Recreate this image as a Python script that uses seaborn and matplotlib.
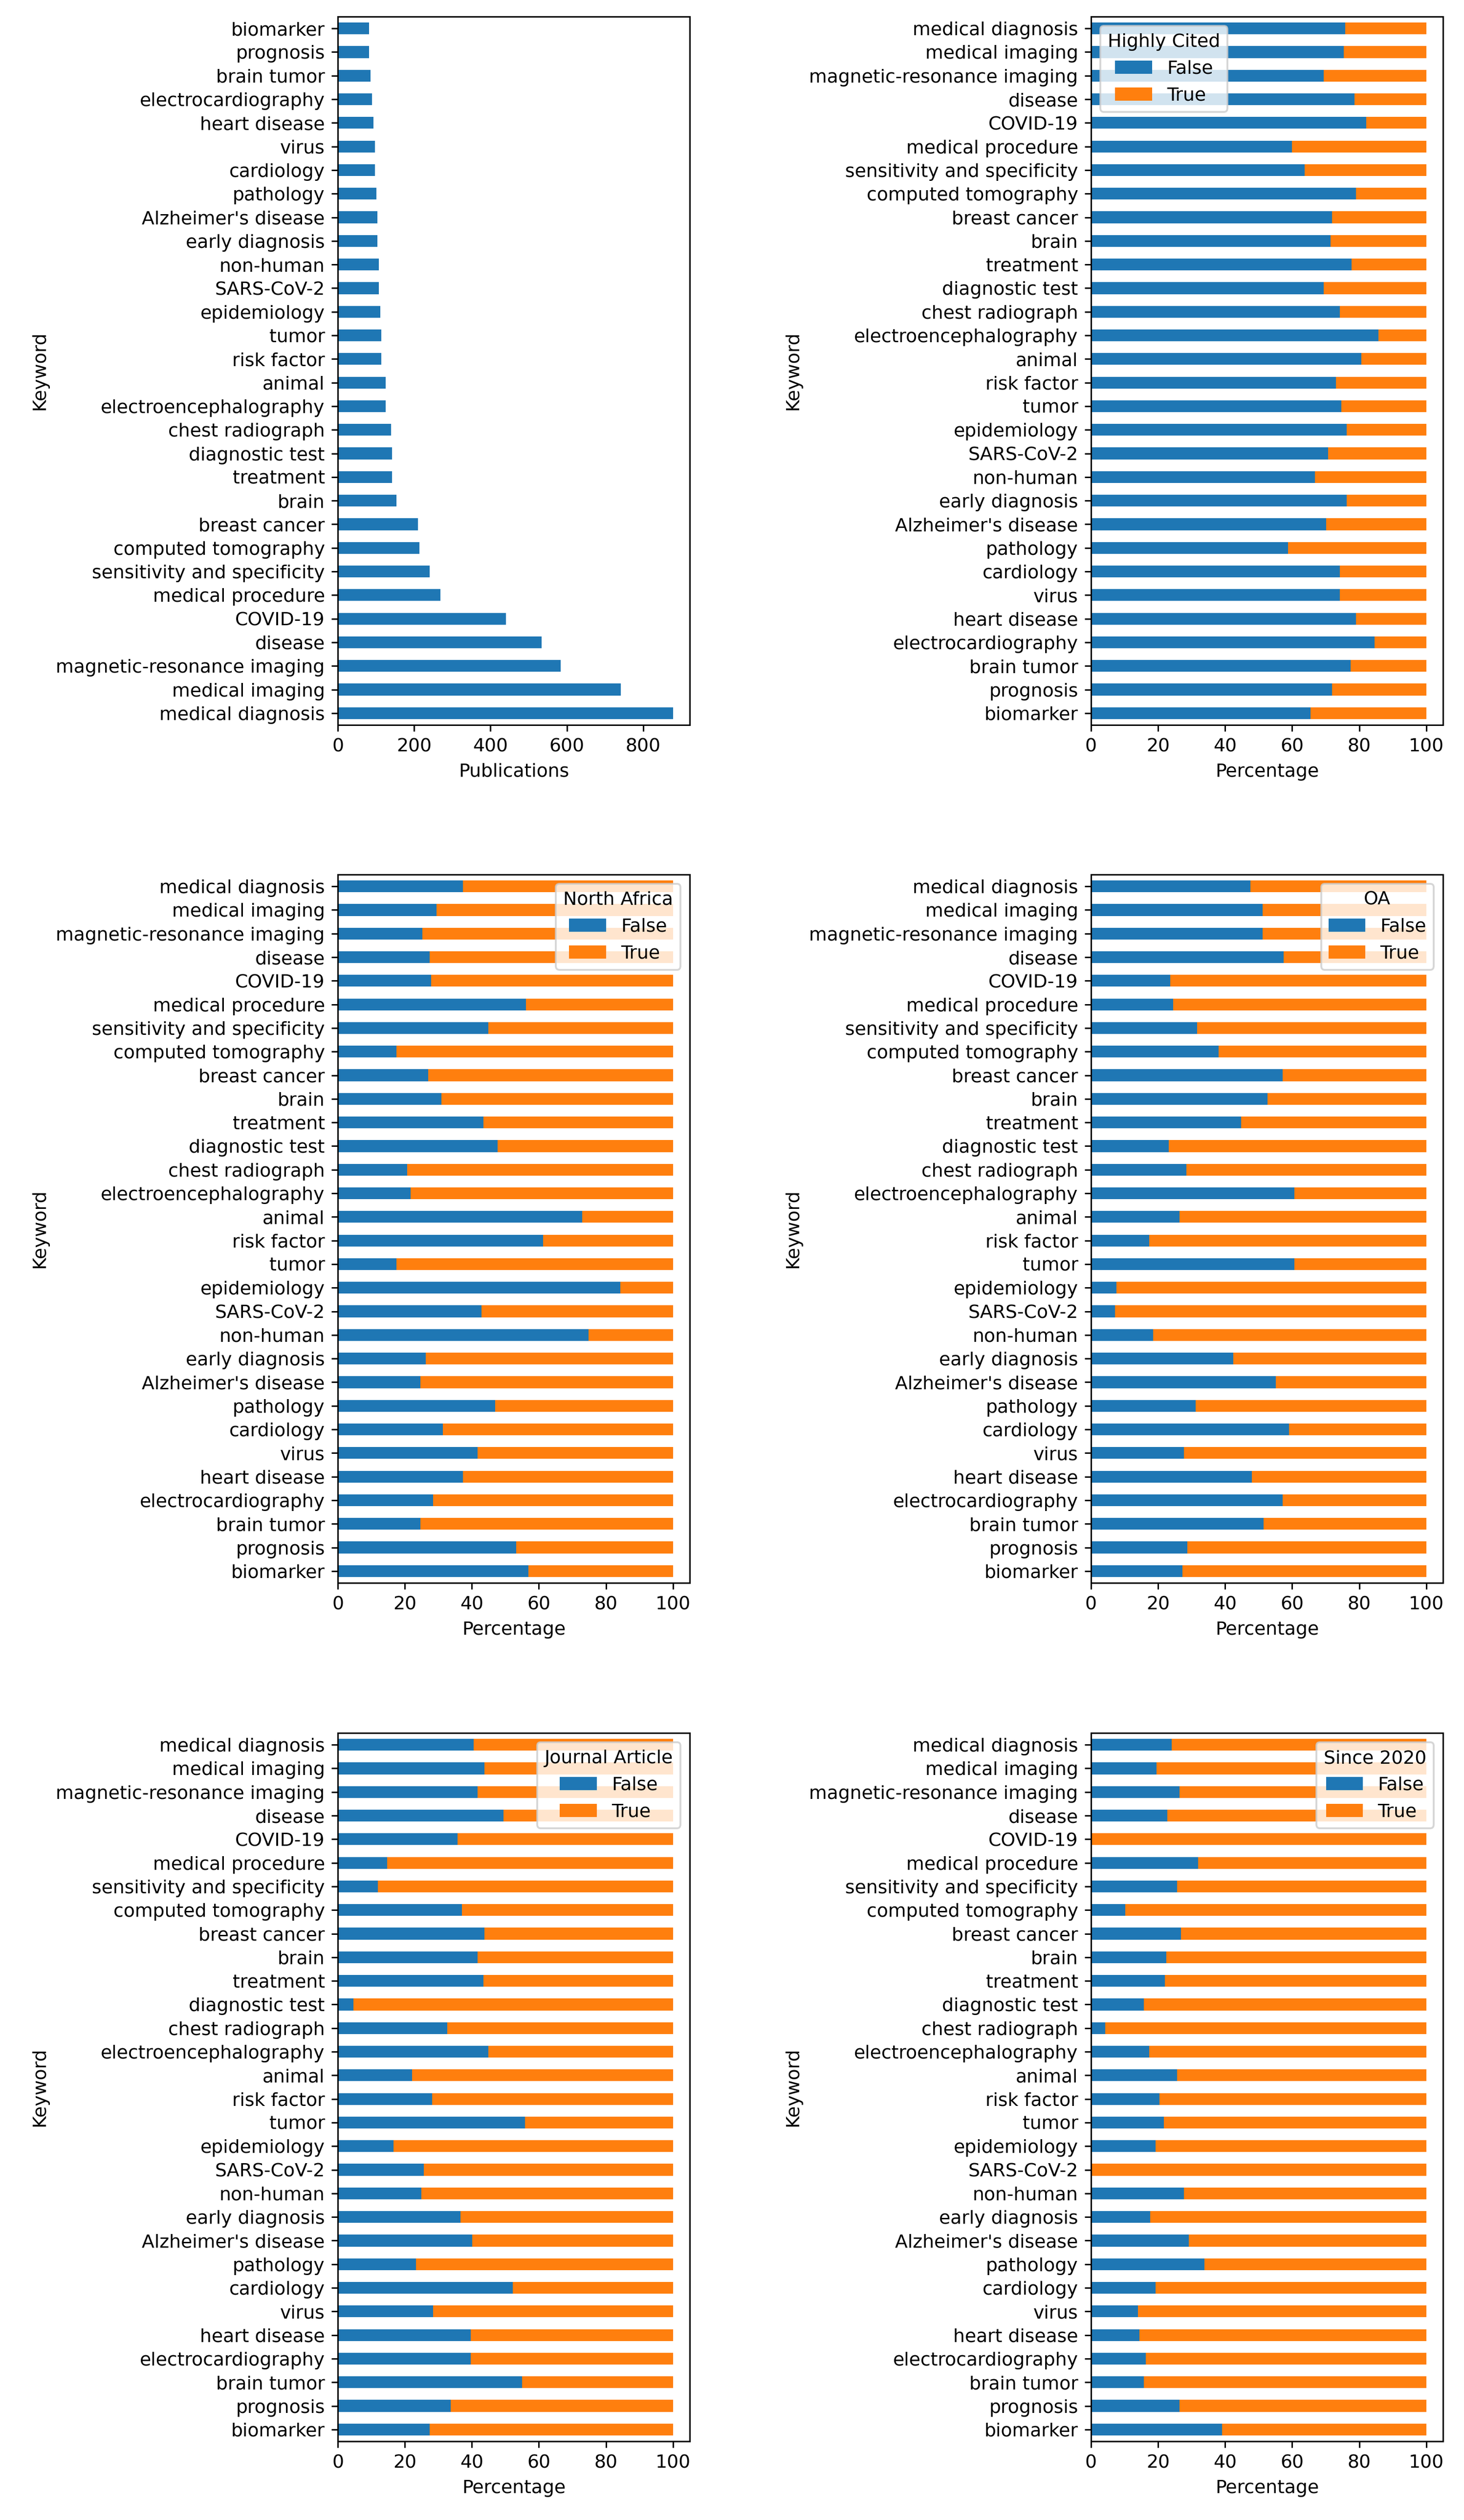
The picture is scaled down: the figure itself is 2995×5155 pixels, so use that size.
import matplotlib
matplotlib.use("Agg")
import matplotlib.pyplot as plt
import seaborn as sns
import pandas as pd

# keywords, ordered by publication count (largest first)
keywords = [
    "medical diagnosis", "medical imaging", "magnetic-resonance imaging", "disease",
    "COVID-19", "medical procedure", "sensitivity and specificity", "computed tomography",
    "breast cancer", "brain", "treatment", "diagnostic test", "chest radiograph",
    "electroencephalography", "animal", "risk factor", "tumor", "epidemiology",
    "SARS-CoV-2", "non-human", "early diagnosis", "Alzheimer's disease", "pathology",
    "cardiology", "virus", "heart disease", "electrocardiography", "brain tumor",
    "prognosis", "biomarker",
]

publications = [878, 741, 584, 534, 441, 269, 241, 214, 210, 154, 142, 142, 139, 125, 125,
                114, 114, 111, 107, 107, 104, 104, 101, 97, 97, 93, 90, 86, 82, 82]

# share of publications where the flag is False (True is the rest up to 100)
highly_cited_false = [75.8, 75.4, 69.4, 78.6, 82.1, 59.9, 63.8, 79.0, 71.9, 71.5, 77.7, 69.4,
                      74.3, 85.7, 80.7, 73.0, 74.7, 76.2, 70.7, 66.8, 76.2, 70.2, 58.7, 74.3,
                      74.3, 79.0, 84.6, 77.5, 71.9, 65.5]
north_africa_false = [37.3, 29.4, 25.3, 27.4, 27.8, 56.1, 44.9, 17.5, 27.0, 30.9, 43.4, 47.7,
                      20.7, 21.8, 72.9, 61.3, 17.5, 84.3, 42.9, 74.8, 26.2, 24.6, 47.0, 31.3,
                      41.7, 37.3, 28.5, 24.6, 53.3, 56.9]
oa_false = [47.6, 51.2, 51.2, 57.4, 23.6, 24.5, 31.6, 38.0, 57.2, 52.7, 44.8, 23.2, 28.4,
            60.6, 26.4, 17.4, 60.6, 7.6, 7.2, 18.5, 42.4, 55.1, 31.2, 59.1, 27.7, 48.0,
            57.2, 51.5, 28.8, 27.3]
journal_article_false = [40.6, 43.8, 41.7, 49.4, 35.7, 14.7, 11.9, 37.1, 43.8, 41.7, 43.4, 4.6,
                         32.6, 44.9, 22.2, 28.1, 55.8, 16.6, 25.7, 25.0, 36.6, 40.1, 23.4, 52.2,
                         28.5, 39.7, 39.7, 55.0, 33.7, 27.4]
since_2020_false = [24.1, 19.6, 26.4, 22.8, 0.0, 32.0, 25.6, 10.2, 26.8, 22.4, 22.0, 15.7, 4.2,
                    17.4, 25.6, 20.4, 21.7, 19.2, 0.0, 27.7, 17.7, 29.2, 33.9, 19.2, 14.0, 14.5,
                    16.4, 15.7, 26.4, 39.1]

pub_ticks = [0, 200, 400, 600, 800]
pct_ticks = [0, 20, 40, 60, 80, 100]

BLUE = "#1f77b4"
ORANGE = "#ff7f0e"

W, H = 2995, 5155
DPI = 272
fig = plt.figure(figsize=(W / DPI, H / DPI), dpi=DPI)

col_left = [691 / W, 2232 / W]
row_bottom = [(H - 1483) / H, (H - 3238) / H, (H - 4994) / H]
ax_w = 720 / W
ax_h = 1449 / H


def make_ax(row, col):
    return fig.add_axes([col_left[col], row_bottom[row], ax_w, ax_h])


# publications per keyword (smallest at top)
ax = make_ax(0, 0)
pub_df = pd.DataFrame({"Keyword": keywords, "Publications": publications})
sns.barplot(data=pub_df, x="Publications", y="Keyword", order=keywords[::-1],
            orient="h", color=BLUE, saturation=1, width=0.5, ax=ax)
ax.set_xticks(pub_ticks)
ax.set_xlabel("Publications")
ax.set_ylabel("Keyword")


def plot_split(ax, false_pct, title, loc):
    df = pd.DataFrame({"Keyword": keywords, "False": false_pct})
    df["Total"] = 100.0
    sns.barplot(data=df, x="Total", y="Keyword", order=keywords, orient="h",
                color=ORANGE, saturation=1, width=0.5, ax=ax)
    sns.barplot(data=df, x="False", y="Keyword", order=keywords, orient="h",
                color=BLUE, saturation=1, width=0.5, ax=ax)
    ax.set_xticks(pct_ticks)
    ax.set_xlabel("Percentage")
    ax.set_ylabel("Keyword")
    ax.legend([ax.containers[1], ax.containers[0]], ["False", "True"], title=title, loc=loc)


plot_split(make_ax(0, 1), highly_cited_false, "Highly Cited", "upper left")
plot_split(make_ax(1, 0), north_africa_false, "North Africa", "upper right")
plot_split(make_ax(1, 1), oa_false, "OA", "upper right")
plot_split(make_ax(2, 0), journal_article_false, "Journal Article", "upper right")
plot_split(make_ax(2, 1), since_2020_false, "Since 2020", "upper right")

fig.savefig("out.png", dpi=DPI)
